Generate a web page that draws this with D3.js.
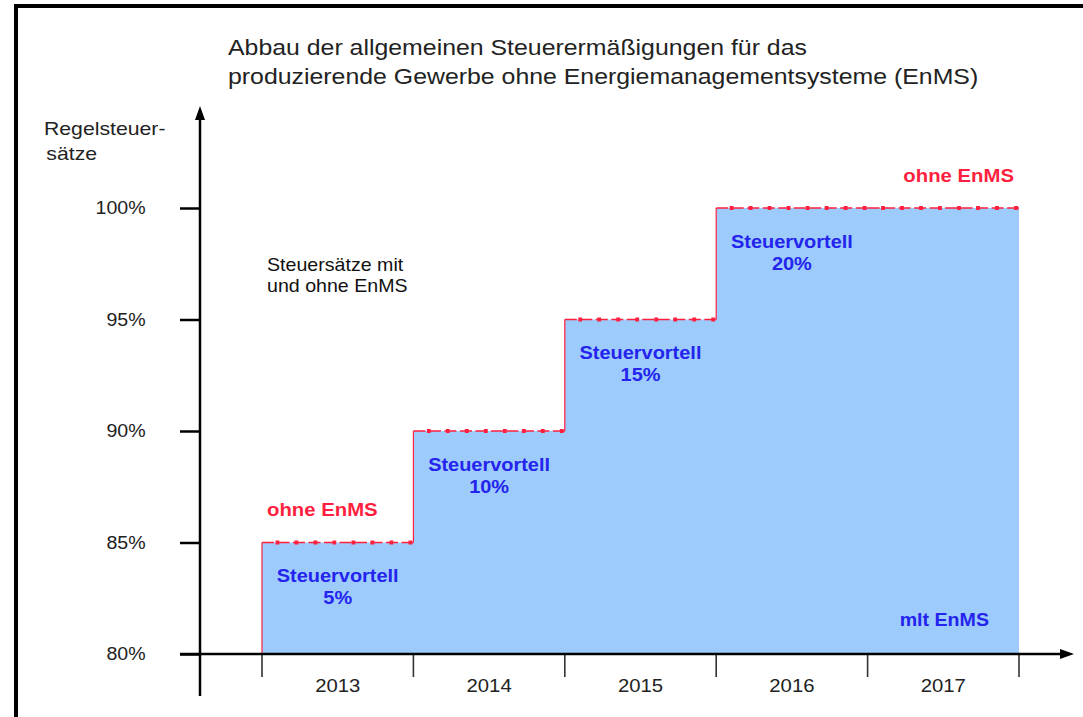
<!DOCTYPE html>
<meta charset="utf-8">
<style>
    body { margin: 0; background: #fff; }
    svg text { font-family: 'Liberation Sans', Arial, sans-serif; }
</style>
<script src="https://d3js.org/d3.v7.min.js"></script>
<div id="graph"></div>
<script>
    // data
    const years = ["2013", "2014", "2015", "2016", "2017"],
        rates = [85, 90, 95, 100, 100],            // Regelsteuersatz ohne EnMS in %
        advantages = ["5%", "10%", "15%", "20%", null],
        yTicks = [80, 85, 90, 95, 100];

    const W = 1083, H = 717;
    const red = "#ff1f3f", blue = "#2424ee", fill = "#9dcbfb";

    const svg = d3.select("#graph").append("svg")
        .attr("width", W).attr("height", H);

    // the source picture is a bit wider than tall, so text gets stretched horizontally
    function stretch(sel, ax, sx) {
        sel.attr("transform", `translate(${ax},0) scale(${sx},1) translate(${-ax},0)`);
        return sel;
    }

    // frame (only top and left visible)
    svg.append("rect")
        .attr("x", 16).attr("y", 6).attr("width", 1200).attr("height", 800)
        .attr("fill", "none").attr("stroke", "#000").attr("stroke-width", 4);

    const x = d3.scaleBand().domain(years).range([262, 1019]).padding(0);
    const y = d3.scaleLinear().domain([80, 100]).range([654, 208]);

    // title
    const title = svg.append("text").attr("font-size", 22).attr("fill", "#222");
    title.append("tspan").attr("x", 228).attr("y", 55).text("Abbau der allgemeinen Steuerermäßigungen für das");
    title.append("tspan").attr("x", 228).attr("y", 84).text("produzierende Gewerbe ohne Energiemanagementsysteme (EnMS)");
    stretch(title, 228, 1.13);

    // area (mit EnMS)
    const pts = years.map((d, i) => [x(d), y(rates[i])]);
    pts.push([x.range()[1], y(rates[rates.length - 1])]);

    const area = d3.area()
        .x(d => d[0]).y0(y(80)).y1(d => d[1])
        .curve(d3.curveStepAfter);
    svg.append("path").attr("d", area(pts)).attr("fill", fill);

    // vertical red edges
    years.forEach((d, i) => {
        const prev = i === 0 ? 80 : rates[i - 1];
        if (prev === rates[i]) return;
        svg.append("line")
            .attr("x1", x(d)).attr("x2", x(d))
            .attr("y1", y(prev)).attr("y2", y(rates[i]))
            .attr("stroke", red).attr("stroke-width", 1.2);
    });

    // dash-dot top line (ohne EnMS)
    years.forEach((d, i) => {
        const x0 = x(d), x1 = x0 + x.bandwidth(), yy = y(rates[i]);
        svg.append("line")
            .attr("x1", x0).attr("x2", x1).attr("y1", yy).attr("y2", yy)
            .attr("stroke", red).attr("stroke-width", 1.5)
            .attr("stroke-dasharray", "12,3.5");
        svg.append("line")
            .attr("x1", x0 + 13.5).attr("x2", x1).attr("y1", yy).attr("y2", yy)
            .attr("stroke", red).attr("stroke-width", 3.8)
            .attr("stroke-dasharray", "3.8,15.2");
    });

    // Steuervortell labels
    years.forEach((d, i) => {
        if (!advantages[i]) return;
        const cx = x(d) + x.bandwidth() / 2, yy = y(rates[i]);
        const t = svg.append("text")
            .attr("text-anchor", "middle").attr("font-size", 19)
            .attr("font-weight", "bold").attr("fill", blue);
        t.append("tspan").attr("x", cx).attr("y", yy + 40).text("Steuervortell");
        t.append("tspan").attr("x", cx).attr("y", yy + 62).text(advantages[i]);
        stretch(t, cx, 1.05);
    });

    // y axis
    const axisY = svg.append("g")
        .attr("transform", "translate(200,0)")
        .call(d3.axisLeft(y).tickValues(yTicks).tickSize(20).tickPadding(32).tickFormat(d => d + "%"));
    axisY.select(".domain").remove();
    axisY.selectAll(".tick line").attr("stroke", "#000").attr("stroke-width", 2.5);
    axisY.selectAll(".tick text")
        .attr("font-family", "'Liberation Sans', Arial, sans-serif")
        .attr("font-size", 17.5).attr("fill", "#222")
        .call(s => stretch(s, -32, 1.12));

    // x axis labels
    const axisX = svg.append("g")
        .attr("transform", "translate(0,654)")
        .call(d3.axisBottom(x).tickSize(0).tickPadding(26));
    axisX.select(".domain").remove();
    axisX.selectAll(".tick text")
        .attr("font-family", "'Liberation Sans', Arial, sans-serif")
        .attr("font-size", 17.5).attr("fill", "#222")
        .call(s => stretch(s, 0, 1.16));

    // x boundary ticks
    const bounds = years.map(d => x(d)).concat([x.range()[1]]);
    svg.selectAll("line.bound").data(bounds).enter().append("line")
        .attr("class", "bound")
        .attr("x1", d => d).attr("x2", d => d)
        .attr("y1", 654).attr("y2", 677)
        .attr("stroke", "#333").attr("stroke-width", 1.6);

    // axis lines with arrows
    svg.append("line").attr("x1", 200).attr("x2", 200).attr("y1", 696).attr("y2", 118)
        .attr("stroke", "#000").attr("stroke-width", 2.5);
    svg.append("path").attr("d", "M200,106 L205,120 L195,120 Z").attr("fill", "#000");
    svg.append("line").attr("x1", 180).attr("x2", 1062).attr("y1", 654).attr("y2", 654)
        .attr("stroke", "#000").attr("stroke-width", 2.5);
    svg.append("path").attr("d", "M1074,654 L1060,649 L1060,659 Z").attr("fill", "#000");

    // axis title
    const yt = svg.append("text").attr("font-size", 18).attr("fill", "#222");
    yt.append("tspan").attr("x", 44).attr("y", 135).text("Regelsteuer-");
    yt.append("tspan").attr("x", 46).attr("y", 160).text("sätze");
    stretch(yt, 44, 1.18);

    // annotations
    const note = svg.append("text").attr("font-size", 18).attr("fill", "#111");
    note.append("tspan").attr("x", 267).attr("y", 271).text("Steuersätze mit");
    note.append("tspan").attr("x", 267).attr("y", 292).text("und ohne EnMS");
    stretch(note, 267, 1.09);

    stretch(svg.append("text").attr("x", 267).attr("y", 516)
        .attr("font-size", 18).attr("font-weight", "bold").attr("fill", red).text("ohne EnMS"), 267, 1.13);
    stretch(svg.append("text").attr("x", 1014).attr("y", 182).attr("text-anchor", "end")
        .attr("font-size", 18).attr("font-weight", "bold").attr("fill", red).text("ohne EnMS"), 1014, 1.13);
    stretch(svg.append("text").attr("x", 989).attr("y", 626).attr("text-anchor", "end")
        .attr("font-size", 18).attr("font-weight", "bold").attr("fill", blue).text("mlt EnMS"), 989, 1.09);
</script>
